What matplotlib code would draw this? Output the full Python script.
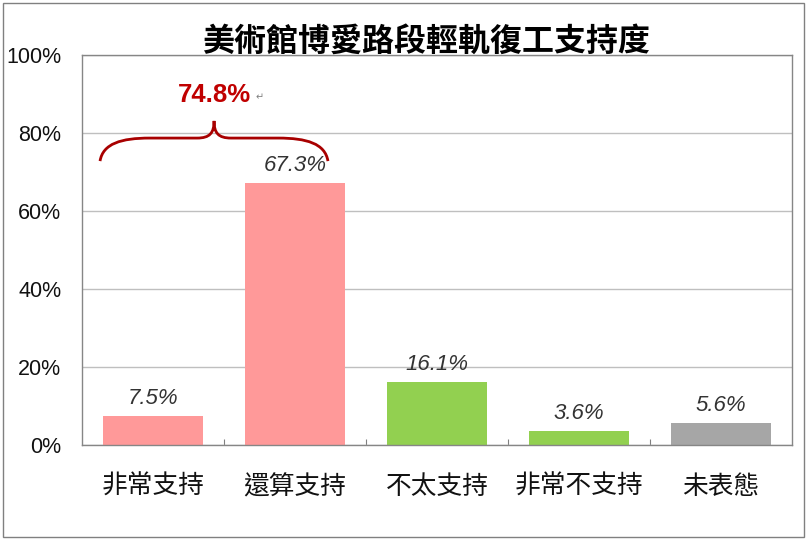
import matplotlib
matplotlib.use("Agg")
import matplotlib.pyplot as plt
from matplotlib.path import Path
from matplotlib.patches import PathPatch, Rectangle
import numpy as np

plt.rcParams['font.family'] = ['Liberation Sans', 'Noto Sans CJK TC', 'DejaVu Sans']

title = "美術館博愛路段輕軌復工支持度"
categories = ["非常支持", "還算支持", "不太支持", "非常不支持", "未表態"]
values = [7.5, 67.3, 16.1, 3.6, 5.6]
colors = ["#FF9999", "#FF9999", "#92D050", "#92D050", "#A6A6A6"]
combined_label = "74.8%"
yticks = [0, 20, 40, 60, 80, 100]

fig = plt.figure(figsize=(8.1, 5.41), dpi=100)
ax = fig.add_axes([82 / 810, 96 / 541, 710 / 810, 390 / 541])

x = np.arange(len(categories))
ax.bar(x, values, width=0.71, color=colors, zorder=2)

for xi, v in zip(x, values):
    ax.text(xi, v + 1.8, f"{v:.1f}%", ha="center", va="bottom",
            fontsize=16, style="italic", color="#333333",
            family=['Liberation Sans', 'DejaVu Sans'])

ax.set_xlim(-0.5, len(categories) - 0.5)
ax.set_ylim(0, 100)
ax.set_yticks(yticks)
ax.set_yticklabels([f"{t}%" for t in yticks], fontsize=15.5, color="#111111")
ax.tick_params(axis="y", length=0, pad=15)
ax.yaxis.grid(True, color="#BFBFBF", linewidth=1, zorder=0)
ax.set_axisbelow(True)

ax.set_xticks(x)
ax.set_xticklabels(categories, fontsize=18.5, color="#111111",
                   family=['Noto Sans CJK TC', 'DejaVu Sans'])
ax.tick_params(axis="x", length=0, pad=21)
ax.set_xticks(x[:-1] + 0.5, minor=True)
ax.tick_params(axis="x", which="minor", direction="in", length=4,
               color="#808080", width=0.8)

for s in ax.spines.values():
    s.set_color("#868686")
    s.set_linewidth(1)

# brace over first two bars
xl, xc, xr = -0.373, 0.43, 1.232
y0, ym, yp = 72.8, 78.7, 83.1
verts = [
    (xl, y0),
    (xl + 0.02, 77.3), (xl + 0.15, ym), (xl + 0.35, ym),
    (xc - 0.12, ym),
    (xc - 0.03, ym), (xc, 80.0), (xc, yp),
    (xc, 80.0), (xc + 0.03, ym), (xc + 0.12, ym),
    (xr - 0.35, ym),
    (xr - 0.15, ym), (xr - 0.02, 77.3), (xr, y0),
]
codes = [Path.MOVETO,
         Path.CURVE4, Path.CURVE4, Path.CURVE4,
         Path.LINETO,
         Path.CURVE4, Path.CURVE4, Path.CURVE4,
         Path.CURVE4, Path.CURVE4, Path.CURVE4,
         Path.LINETO,
         Path.CURVE4, Path.CURVE4, Path.CURVE4]
ax.add_patch(PathPatch(Path(verts, codes), facecolor="none",
                       edgecolor="#A80000", linewidth=2, clip_on=False, zorder=3))

ax.text(xc, 89.7, combined_label, ha="center", va="center", fontsize=18.5,
        fontweight="bold", color="#C00000")
ax.text(xc + 0.29, 89.2, "\u21b5", ha="left", va="center", fontsize=7,
        color="#808080", family=['DejaVu Sans'])

fig.text(426 / 810, 1 - 42 / 541, title, ha="center", va="center",
         fontsize=23, fontweight="bold",
         family=['Noto Sans CJK TC', 'DejaVu Sans'])

fig.patches.append(Rectangle((3 / 810, 4 / 541), 801 / 810, 534 / 541,
                             transform=fig.transFigure, fill=False,
                             edgecolor="#808080", linewidth=1))

fig.savefig("out.png", dpi=100)
